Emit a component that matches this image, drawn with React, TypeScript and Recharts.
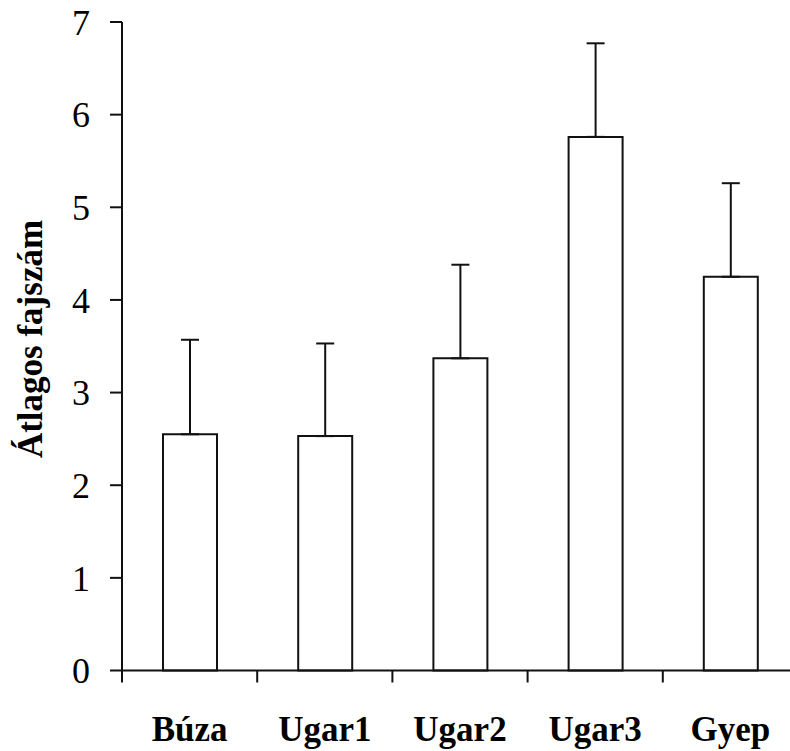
import React from 'react';
import { BarChart, Bar, XAxis, YAxis, ErrorBar } from 'recharts';

const categories = ['Búza', 'Ugar1', 'Ugar2', 'Ugar3', 'Gyep'];
const means = [2.55, 2.53, 3.37, 5.76, 4.25];
const errors = [1.02, 1.0, 1.01, 1.01, 1.01];
const yTicks = [0, 1, 2, 3, 4, 5, 6, 7];
const yTitle = 'Átlagos fajszám';

const data = categories.map((c, i) => ({ name: c, mean: means[i], err: [0, errors[i]] }));

const W = 800;
const H = 751;
const LEFT = 122;
const RIGHT = 2;
const TOP = 22;
const XH = 80.5;
const BAND = (W - LEFT - RIGHT) / categories.length;
const INK = '#111';
const FONT = '"Liberation Serif", "Times New Roman", serif';

const XTick = (props: any) => {
  const { x, y, payload } = props;
  return (
    <g>
      <line x1={x - BAND / 2} x2={x - BAND / 2} y1={y - 46} y2={y - 34} stroke={INK} strokeWidth={2} />
      <text x={x} y={y} dy="0.71em" textAnchor="middle" fontFamily={FONT} fontWeight="bold" fontSize={35} fill="#000">
        {payload.value}
      </text>
    </g>
  );
};

const YTitle = (props: any) => {
  const cx = 42;
  const cy = 339;
  return (
    <text
      x={cx}
      y={cy}
      transform={`rotate(-90 ${cx} ${cy})`}
      textAnchor="middle"
      fontFamily={FONT}
      fontWeight="bold"
      fontSize={35}
      fill="#000"
    >
      {yTitle}
    </text>
  );
};

export default function App() {
  return (
    <div style={{ position: 'absolute', left: 0, top: 0, width: 790, height: 751, overflow: 'hidden', background: '#fff' }}>
      <BarChart width={W} height={H} data={data} margin={{ top: TOP, right: RIGHT, left: 0, bottom: 0 }}>
        <XAxis
          dataKey="name"
          height={XH}
          tickLine={false}
          tickSize={12}
          tickMargin={34}
          axisLine={{ stroke: INK, strokeWidth: 2 }}
          tick={<XTick />}
          interval={0}
        />
        <YAxis
          width={LEFT}
          domain={[0, 7]}
          ticks={yTicks}
          interval={0}
          tickSize={12}
          tickMargin={20}
          axisLine={{ stroke: INK, strokeWidth: 2 }}
          tickLine={{ stroke: INK, strokeWidth: 2 }}
          tick={{ fontFamily: FONT, fontSize: 36, fill: '#000' }}
          label={<YTitle />}
        />
        <Bar dataKey="mean" barSize={54} fill="#fff" stroke={INK} strokeWidth={2} isAnimationActive={false}>
          <ErrorBar dataKey="err" direction="y" width={9} stroke={INK} strokeWidth={2} isAnimationActive={false} />
        </Bar>
      </BarChart>
    </div>
  );
}
